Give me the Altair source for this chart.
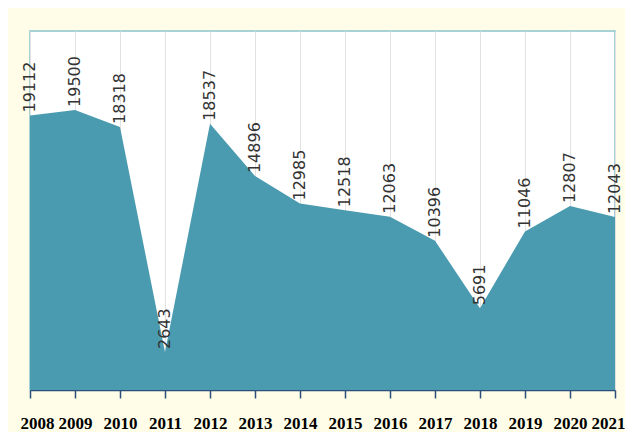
import altair as alt
import pandas as pd

years = ["2008", "2009", "2010", "2011", "2012", "2013", "2014",
         "2015", "2016", "2017", "2018", "2019", "2020", "2021"]
values = [19112, 19500, 18318, 2643, 18537, 14896, 12985,
          12518, 12063, 10396, 5691, 11046, 12807, 12043]

df = pd.DataFrame({"year": years, "value": values})

base = alt.Chart(df).encode(
    x=alt.X(
        "year:O",
        sort=None,
        scale=alt.Scale(type="point", padding=0),
        axis=alt.Axis(
            title=None,
            labelAngle=0,
            labelFont="Liberation Serif",
            labelFontWeight="bold",
            labelFontSize=17,
            labelColor="#000000",
            labelPadding=17,
            labelOverlap=False,
            labelBound=False,
            labelFlush=True,
            labelFlushOffset=10,
            grid=True,
            gridColor="#e2e2e2",
            gridWidth=1,
            domainColor="#2B4E7A",
            domainWidth=1.5,
            tickColor="#2B4E7A",
            tickWidth=1.5,
            tickSize=8,
        ),
    ),
    y=alt.Y("value:Q", scale=alt.Scale(domain=[0, 25000], nice=False), axis=None),
)

area = base.mark_area(color="#4A9BB0", opacity=1)

labels = base.mark_text(
    angle=270,
    align="left",
    baseline="middle",
    dx=3,
    font="DejaVu Sans",
    fontSize=16,
    color="#333333",
).encode(text=alt.Text("value:Q", format="d"))

chart = (
    alt.layer(area, labels)
    .properties(
        width=585,
        height=359,
        background="#FFFDE8",
        padding={"left": 22, "top": 23, "right": 10, "bottom": 42},
        autosize=alt.AutoSizeParams(type="none"),
    )
    .configure_view(fill="#FFFFFF", stroke="#8CC3CC", strokeWidth=1.5)
)

chart.save("out.html", embed_options={"renderer": "svg", "actions": False})
